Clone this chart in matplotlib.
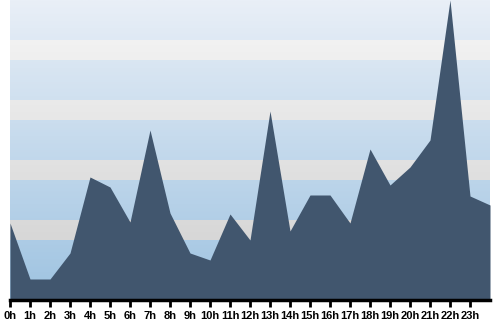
import numpy as np
import matplotlib
matplotlib.use("Agg")
import matplotlib.pyplot as plt
from matplotlib.colors import LinearSegmentedColormap

hours = list(range(25))
values = [77, 21, 21, 47, 123, 113, 78, 170, 87, 47, 40, 86, 60, 189, 69,
          105, 105, 77, 151, 115, 133, 160, 300, 104, 95]
tick_labels = [f"{h}h" for h in range(24)]
y_max = 300
gray_bands = [(240, 260), (180, 200), (120, 140), (60, 80)]

fig = plt.figure(figsize=(5, 3.2), dpi=100)
ax = fig.add_axes([0.02, 0.0625, 0.96, 0.9375])
ax.set_xlim(0, 24)
ax.set_ylim(0, y_max)

# blue gradient background
blue = LinearSegmentedColormap.from_list("b", ["#9ec3e1", "#e9eff7"])
grad = np.linspace(0, 1, 256).reshape(-1, 1)
ax.imshow(grad, cmap=blue, aspect="auto", extent=[0, 24, 0, y_max],
          origin="lower", zorder=0)
gray = LinearSegmentedColormap.from_list("g", ["#cfcfcf", "#f7f7f7"])
for lo, hi in gray_bands:
    c0 = gray(lo / y_max)
    c1 = gray(hi / y_max)
    g = np.linspace(0, 1, 32).reshape(-1, 1)
    cm = LinearSegmentedColormap.from_list("gg", [c0, c1])
    ax.imshow(g, cmap=cm, aspect="auto", extent=[0, 24, lo, hi],
              origin="lower", zorder=0.5)

ax.fill_between(hours, values, 0, color="#41566e", lw=0, zorder=2)

for s in ["top", "right", "left"]:
    ax.spines[s].set_visible(False)
ax.spines["bottom"].set_linewidth(2.5)
ax.spines["bottom"].set_color("black")
ax.spines["bottom"].set_zorder(3)
ax.set_yticks([])
ax.set_xticks(range(24))
ax.set_xticklabels(tick_labels, fontfamily="Liberation Sans", fontweight="bold",
                   fontsize=8)
ax.tick_params(axis="x", length=5, width=2, pad=3, color="black")

fig.savefig("out.png", dpi=100)
